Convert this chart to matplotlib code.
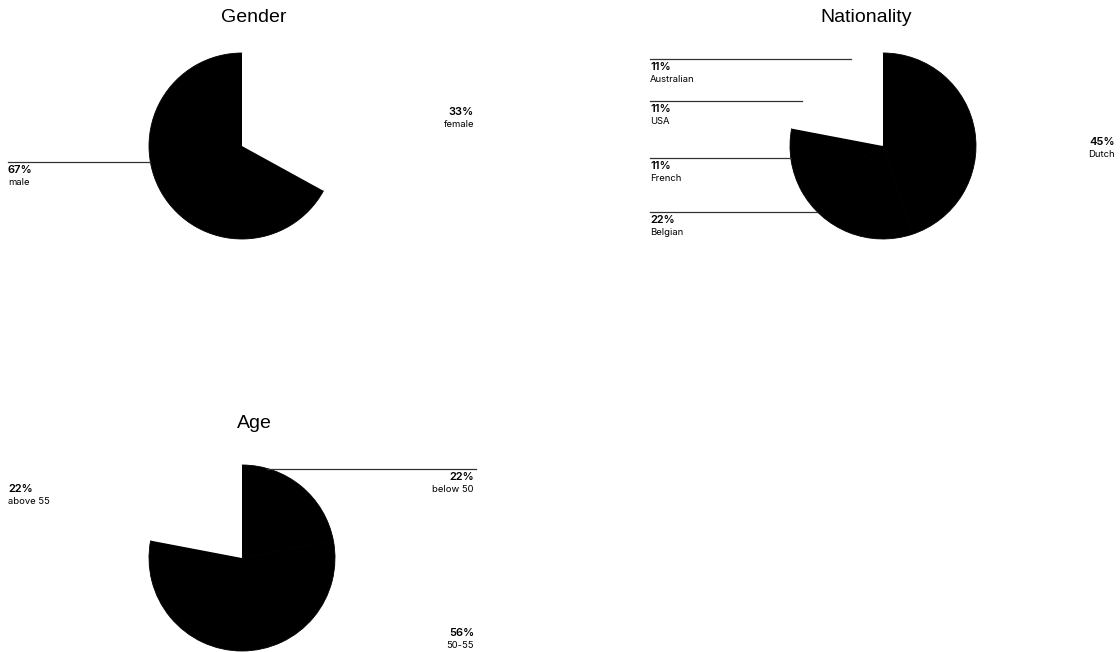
import numpy as np
import matplotlib.pyplot as plt

# survey composition, in percent
gender_labels = ["male", "female"]
gender_pct = [67, 33]

nat_labels = ["Dutch", "Belgian", "French", "USA", "Australian"]
nat_pct = [45, 22, 11, 11, 11]

age_labels = ["below 50", "50-55", "above 55"]
age_pct = [22, 56, 22]

# which slices are filled (the rest are left blank)
gender_colors = ["black", "white"]
nat_colors = ["black", "black", "black", "white", "white"]
age_colors = ["black", "black", "white"]

W, H = 1120, 652
fig = plt.figure(figsize=(W / 100, H / 100), dpi=100)
ax = fig.add_axes([0, 0, 1, 1])

R = 93

# layout in pixels (y from top): centre, title x, label x for each side
charts = [
    dict(title="Gender", labels=gender_labels, pct=gender_pct, colors=gender_colors,
         cx=242, cy=146, tx=254, ty=18, lx=8, rx=474, cw=False,
         # (side, y of percent text, leader line?)
         place=[("L", 170, True), ("R", 112, False)]),
    dict(title="Nationality", labels=nat_labels, pct=nat_pct, colors=nat_colors,
         cx=883, cy=146, tx=866, ty=18, lx=650, rx=1115, cw=True,
         place=[("R", 142, False), ("L", 220, True), ("L", 166, True),
                ("L", 109, True), ("L", 67, True)]),
    dict(title="Age", labels=age_labels, pct=age_pct, colors=age_colors,
         cx=242, cy=558, tx=254, ty=424, lx=8, rx=474, cw=True,
         place=[("R", 477, True), ("R", 633, False), ("L", 489, False)]),
]

lab_font = "Inter"

for c in charts:
    wedges, _ = ax.pie(c["pct"], colors=c["colors"], startangle=90,
                       counterclock=not c["cw"],
                       center=(c["cx"], H - c["cy"]), radius=R)
    # edge in the fill colour hides the seams between black slices
    for w, col in zip(wedges, c["colors"]):
        w.set_edgecolor(col)
        w.set_linewidth(0.6 if col == "black" else 0)
    ax.text(c["tx"], H - c["ty"], c["title"], ha="center", va="center",
            fontsize=14, family="Liberation Sans")
    for lab, p, (side, y, line) in zip(c["labels"], c["pct"], c["place"]):
        x = c["lx"] if side == "L" else c["rx"]
        ha = "left" if side == "L" else "right"
        ax.text(x, H - y, f"{p}%", ha=ha, va="center", fontsize=8,
                fontweight="semibold", family=lab_font)
        ax.text(x, H - y - 12.5, lab, ha=ha, va="center", fontsize=6.8,
                family=lab_font)
        if line:
            ly = y - 8.5
            dy = ly - c["cy"]
            dx = np.sqrt(max(R ** 2 - dy ** 2, 0))
            if side == "L":
                ax.plot([x, c["cx"] - dx], [H - ly, H - ly], color="#333333", lw=0.9)
            else:
                ax.plot([c["cx"] + dx, x + 2], [H - ly, H - ly], color="#333333", lw=0.9)

ax.set_xlim(0, W)
ax.set_ylim(0, H)
ax.set_aspect("auto")
ax.axis("off")

fig.savefig("out.png", dpi=100, facecolor="white")
